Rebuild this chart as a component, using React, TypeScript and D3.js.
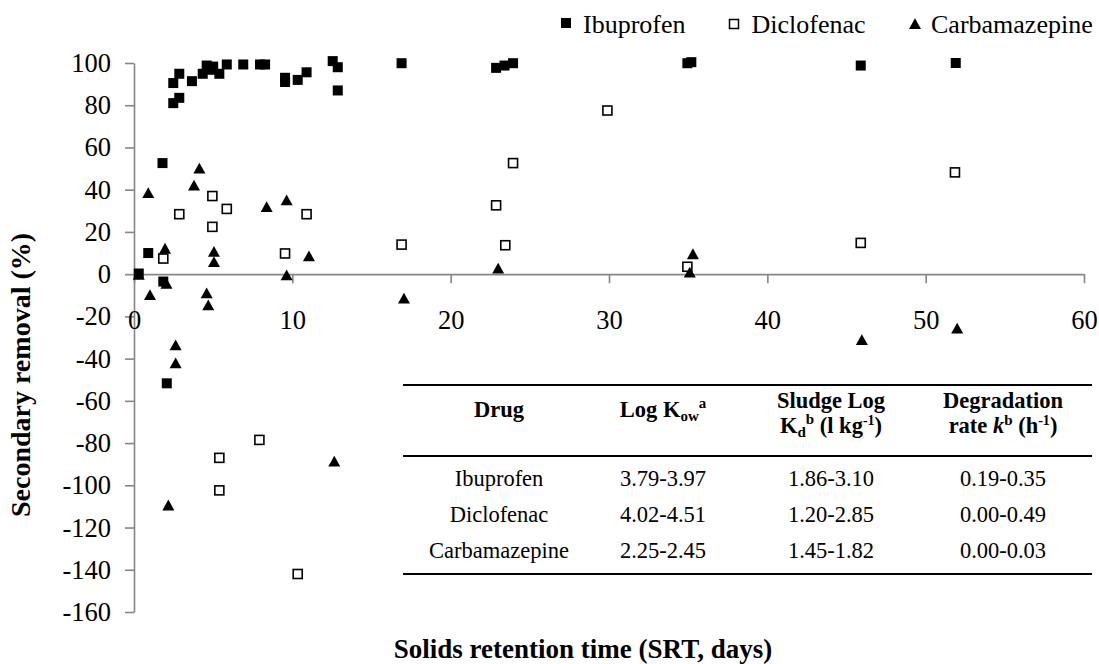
import React, { useEffect, useRef } from 'react';
import * as d3 from 'd3';

// [SRT days, secondary removal %]
const ibuprofen: [number, number][] = [
  [0.3, 0.3], [0.9, 10], [1.85, -3.5], [1.8, 52.6], [2.07, -51.7], [2.48, 81], [2.86, 83.5],
  [2.48, 90.5], [2.86, 94.9], [3.66, 91.4], [4.34, 94.9], [4.59, 98.8], [4.8, 96.8], [5.0, 98.3],
  [5.39, 94.9], [5.86, 99.3], [6.9, 99.3], [7.96, 99.3], [8.28, 99.3], [9.54, 93], [9.54, 91],
  [10.34, 92], [10.9, 95.6], [12.55, 100.9], [12.87, 98], [12.87, 87], [16.9, 99.9], [22.87, 97.7],
  [23.4, 98.8], [23.94, 99.9], [34.95, 99.9], [35.2, 100.4], [45.9, 98.8], [51.9, 100],
];

const diclofenac: [number, number][] = [
  [1.85, 7.4], [2.86, 28.4], [4.95, 37], [4.95, 22.4], [5.86, 30.9], [9.54, 9.8], [10.9, 28.4],
  [7.92, -78.5], [5.39, -87], [5.39, -102.4], [10.34, -142], [29.9, 77.5], [23.94, 52.6],
  [22.87, 32.6], [16.9, 14], [23.45, 13.7], [34.95, 3.5], [45.9, 14.8], [51.85, 48.2],
];

const carbamazepine: [number, number][] = [
  [0.3, -0.3], [0.9, 38.4], [1.96, 12.1], [2.05, -4.5], [4.13, 50], [3.79, 42], [5.05, 10.6],
  [5.05, 5.8], [8.38, 31.8], [9.64, 35], [9.64, -0.5], [11.05, 8.5], [1.01, -9.9], [4.59, -9],
  [4.69, -14.7], [2.63, -33.7], [2.63, -42.2], [12.65, -88.7], [2.17, -109.5], [17.05, -11.5],
  [23.0, 2.7], [35.3, 9.5], [35.1, 0.8], [45.97, -31.2], [51.99, -25.7],
];

const seriesNames = ['Ibuprofen', 'Diclofenac', 'Carbamazepine'];
const xTicks = [0, 10, 20, 30, 40, 50, 60];
const yTicks = [-160, -140, -120, -100, -80, -60, -40, -20, 0, 20, 40, 60, 80, 100];

// inset table
const tableDrugs = ['Ibuprofen', 'Diclofenac', 'Carbamazepine'];
const tableLogKow = ['3.79-3.97', '4.02-4.51', '2.25-2.45'];
const tableLogKd = ['1.86-3.10', '1.20-2.85', '1.45-1.82'];
const tableDegradation = ['0.19-0.35', '0.00-0.49', '0.00-0.03'];

const W = 1099;
const H = 664;
const FONT = '"Liberation Serif", "Times New Roman", serif';
const AXIS = '#868686';

const App: React.FC = () => {
  const svgRef = useRef<SVGSVGElement | null>(null);

  useEffect(() => {
    if (!svgRef.current) return;
    const svg = d3.select(svgRef.current);
    svg.selectAll('*').remove();

    const x = d3.scaleLinear().domain([0, 60]).range([134, 1084]);
    const y = d3.scaleLinear().domain([-160, 100]).range([612, 63]);

    // Y axis
    const yAxis = svg.append('g')
      .attr('transform', `translate(${x(0)},0)`)
      .call(d3.axisLeft(y).tickValues(yTicks).tickSize(9).tickSizeOuter(0).tickPadding(14)
        .tickFormat(d => (+d < 0 ? `-${Math.abs(+d)}` : `${d}`)));
    yAxis.attr('font-family', null).attr('font-size', null);
    yAxis.select('.domain').attr('stroke', AXIS).attr('stroke-width', 1.6);
    yAxis.selectAll('line').attr('stroke', AXIS).attr('stroke-width', 1.6);
    yAxis.selectAll('text')
      .attr('fill', '#000')
      .style('font-family', FONT)
      .style('font-size', '26.5px');

    // X axis at zero
    const xAxis = svg.append('g')
      .attr('transform', `translate(0,${y(0)})`)
      .call(d3.axisBottom(x).tickValues(xTicks).tickSize(9).tickSizeOuter(0).tickPadding(27));
    xAxis.attr('font-family', null).attr('font-size', null);
    xAxis.select('.domain').attr('stroke', AXIS).attr('stroke-width', 1.6);
    xAxis.selectAll('line').attr('stroke', AXIS).attr('stroke-width', 1.6);
    xAxis.selectAll('text')
      .attr('fill', '#000')
      .style('font-family', FONT)
      .style('font-size', '26.5px');

    // Axis titles
    svg.append('text')
      .attr('transform', `translate(30,375) rotate(-90)`)
      .attr('text-anchor', 'middle')
      .style('font-family', FONT)
      .style('font-size', '28px')
      .style('font-weight', 'bold')
      .text('Secondary removal (%)');

    svg.append('text')
      .attr('x', 583)
      .attr('y', 658)
      .attr('text-anchor', 'middle')
      .style('font-family', FONT)
      .style('font-size', '27px')
      .style('font-weight', 'bold')
      .text('Solids retention time (SRT, days)');

    const tri = (cx: number, cy: number, s: number) =>
      `M${cx},${cy - s * 0.48}L${cx + s / 2},${cy + s * 0.42}L${cx - s / 2},${cy + s * 0.42}Z`;

    // Ibuprofen - filled squares
    svg.append('g')
      .selectAll('rect')
      .data(ibuprofen)
      .join('rect')
        .attr('x', d => x(d[0]) - 5)
        .attr('y', d => y(d[1]) - 5)
        .attr('width', 10)
        .attr('height', 10)
        .attr('fill', '#000');

    // Diclofenac - open squares
    svg.append('g')
      .selectAll('rect')
      .data(diclofenac)
      .join('rect')
        .attr('x', d => x(d[0]) - 4.5)
        .attr('y', d => y(d[1]) - 4.5)
        .attr('width', 9)
        .attr('height', 9)
        .attr('fill', '#fff')
        .attr('stroke', '#000')
        .attr('stroke-width', 1.6);

    // Carbamazepine - triangles
    svg.append('g')
      .selectAll('path')
      .data(carbamazepine)
      .join('path')
        .attr('d', d => tri(x(d[0]), y(d[1]), 12))
        .attr('fill', '#000');

    // Legend
    const legendX = [561, 729.5, 909];
    const legend = svg.append('g');
    legend.append('rect').attr('x', legendX[0]).attr('y', 18).attr('width', 10).attr('height', 10).attr('fill', '#000');
    legend.append('rect').attr('x', legendX[1]).attr('y', 19.5).attr('width', 9).attr('height', 9)
      .attr('fill', '#fff').attr('stroke', '#000').attr('stroke-width', 1.5);
    legend.append('path').attr('d', tri(legendX[2] + 6, 24, 12)).attr('fill', '#000');
    legend.selectAll('text')
      .data(seriesNames)
      .join('text')
        .attr('x', (_, i) => legendX[i] + 22)
        .attr('y', 33)
        .style('font-family', FONT)
        .style('font-size', '26px')
        .text(d => d);

    // Inset table
    const table = svg.append('g').style('font-family', FONT);
    const tLeft = 403;
    const tRight = 1092;
    [385, 456, 574].forEach(ry => {
      table.append('line')
        .attr('x1', tLeft).attr('x2', tRight)
        .attr('y1', ry).attr('y2', ry)
        .attr('stroke', '#000').attr('stroke-width', 2.2);
    });
    const colX = [499, 663, 831, 1003];
    const hdr = (cx: number, cy: number) => table.append('text')
      .attr('x', cx).attr('y', cy)
      .attr('text-anchor', 'middle')
      .style('font-size', '22.5px')
      .style('font-weight', 'bold');

    hdr(colX[0], 417).text('Drug');

    const kow = hdr(colX[1], 417);
    kow.append('tspan').text('Log K');
    kow.append('tspan').attr('dy', 4).style('font-size', '15px').text('ow');
    kow.append('tspan').attr('dy', -13).style('font-size', '15px').text('a');

    hdr(colX[2], 408).text('Sludge Log');
    const kd = hdr(colX[2], 433);
    kd.append('tspan').text('K');
    kd.append('tspan').attr('dy', 4).style('font-size', '15px').text('d');
    kd.append('tspan').attr('dy', -13).style('font-size', '15px').text('b');
    kd.append('tspan').attr('dy', 9).text(' (l kg');
    kd.append('tspan').attr('dy', -8).style('font-size', '14px').text('-1');
    kd.append('tspan').attr('dy', 8).text(')');

    hdr(colX[3], 408).text('Degradation');
    const rate = hdr(colX[3], 433);
    rate.append('tspan').text('rate ');
    rate.append('tspan').style('font-style', 'italic').text('k');
    rate.append('tspan').attr('dy', -8).style('font-size', '15px').text('b');
    rate.append('tspan').attr('dy', 8).text(' (h');
    rate.append('tspan').attr('dy', -8).style('font-size', '14px').text('-1');
    rate.append('tspan').attr('dy', 8).text(')');

    const rowY = [486, 522, 558];
    [tableDrugs, tableLogKow, tableLogKd, tableDegradation].forEach((col, ci) => {
      table.append('g')
        .selectAll('text')
        .data(col)
        .join('text')
          .attr('x', colX[ci])
          .attr('y', (_, i) => rowY[i])
          .attr('text-anchor', 'middle')
          .style('font-size', '22.5px')
          .text(d => d);
    });
  }, []);

  return (
    <svg
      ref={svgRef}
      width={W}
      height={H}
      viewBox={`0 0 ${W} ${H}`}
      style={{ position: 'absolute', left: 0, top: 0, background: '#fff' }}
    />
  );
};

export default App;
